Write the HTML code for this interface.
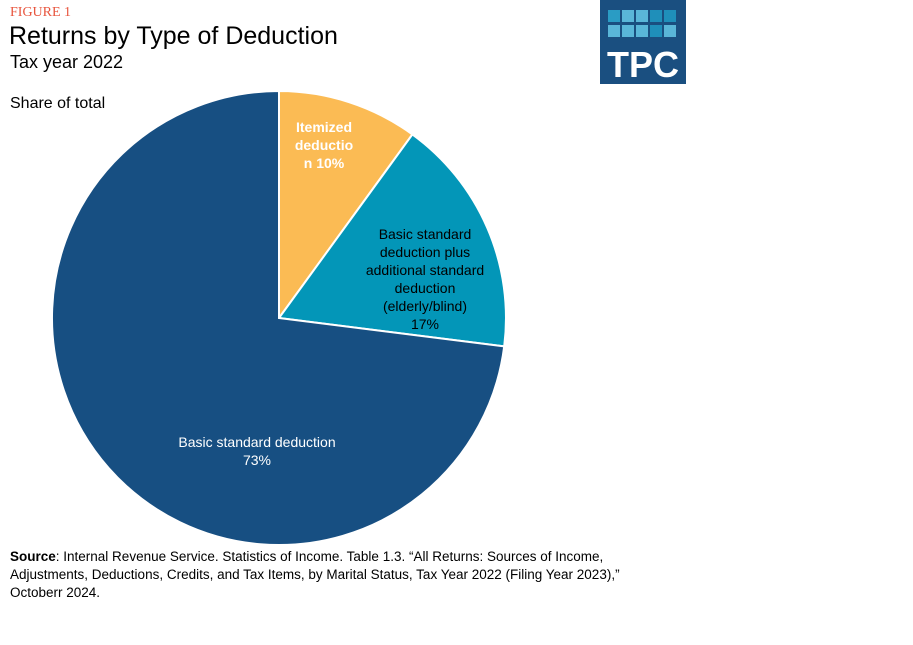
<!DOCTYPE html>
<html><head><style>
body{margin:0;width:913px;height:645px;background:#fff;font-family:"Liberation Sans",sans-serif;overflow:hidden;position:relative}
.t{position:absolute;white-space:nowrap}
</style></head><body>
<div class="t" style="left:10px;top:5px;font-family:'Liberation Serif',serif;font-size:14px;color:#e8553e">FIGURE 1</div>
<div class="t" style="left:9px;top:22px;font-size:25px;color:#000">Returns by Type of Deduction</div>
<div class="t" style="left:10px;top:52px;font-size:18px;color:#000">Tax year 2022</div>
<div class="t" style="left:10px;top:95px;font-size:16px;color:#000">Share of total</div>
<svg style="position:absolute;left:0;top:0" width="913" height="645">
<rect x="600" y="0" width="86" height="84" fill="#1a4f80"/>
<g>
<rect x="608" y="10" width="12" height="12" fill="#2a9cc4"/><rect x="622" y="10" width="12" height="12" fill="#5ab6d8"/><rect x="636" y="10" width="12" height="12" fill="#5ab6d8"/><rect x="650" y="10" width="12" height="12" fill="#1f8fba"/><rect x="664" y="10" width="12" height="12" fill="#1f8fba"/>
<rect x="608" y="25" width="12" height="12" fill="#5ab6d8"/><rect x="622" y="25" width="12" height="12" fill="#5ab6d8"/><rect x="636" y="25" width="12" height="12" fill="#5ab6d8"/><rect x="650" y="25" width="12" height="12" fill="#1f8fba"/><rect x="664" y="25" width="12" height="12" fill="#5ab6d8"/>
</g>
<text x="643" y="77" text-anchor="middle" font-family="Liberation Sans" font-weight="bold" font-size="36" fill="#fff">TPC</text>
<g stroke="#fff" stroke-width="2">
<path d="M279,318 L279,91 A227,227 0 0 1 412.4,134.4 Z" fill="#fbbb54"/>
<path d="M279,318 L412.4,134.4 A227,227 0 0 1 504.2,346.4 Z" fill="#0396b8"/>
<path d="M279,318 L504.2,346.4 A227,227 0 1 1 279,91 Z" fill="#174f82"/>
</g>
<g font-family="Liberation Sans" font-size="14" text-anchor="middle">
<text fill="#fff" font-weight="bold"><tspan x="324" y="132">Itemized</tspan><tspan x="324" y="150">deductio</tspan><tspan x="324" y="168">n 10%</tspan></text>
<text fill="#000"><tspan x="425" y="239">Basic standard</tspan><tspan x="425" y="257">deduction plus</tspan><tspan x="425" y="275">additional standard</tspan><tspan x="425" y="293">deduction</tspan><tspan x="425" y="311">(elderly/blind)</tspan><tspan x="425" y="329">17%</tspan></text>
<text fill="#fff"><tspan x="257" y="447">Basic standard deduction</tspan><tspan x="257" y="465">73%</tspan></text>
</g>
</svg>
<div class="t" style="left:10px;top:548px;font-size:13.5px;line-height:18px;color:#000">
<b>Source</b>: Internal Revenue Service. Statistics of Income. Table 1.3. “All Returns: Sources of Income,<br>Adjustments, Deductions, Credits, and Tax Items, by Marital Status, Tax Year 2022 (Filing Year 2023),”<br>Octoberr 2024.</div>
</body></html>
